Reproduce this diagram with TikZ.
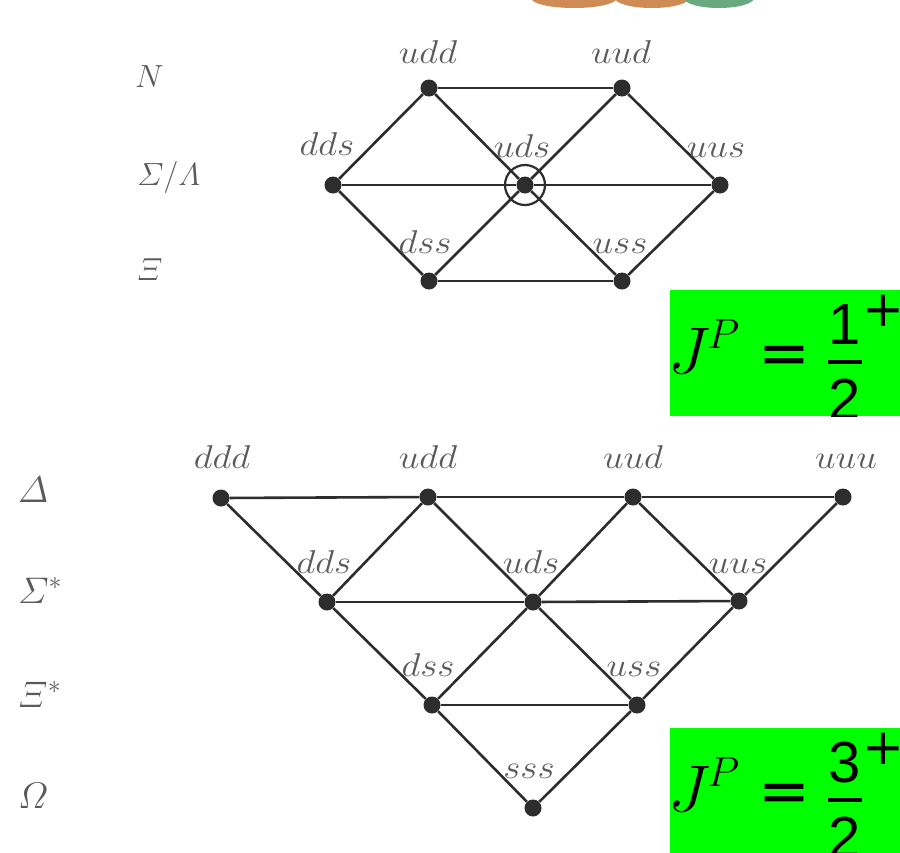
\RequirePackage{fix-cm}
\documentclass[tikz,border=0pt]{standalone}
\usepackage{amsmath}
\usepackage{fontspec}
\newfontfamily\lsans{Liberation Sans}
\newfontfamily\dvsans{DejaVu Sans}
\definecolor{jgreen}{RGB}{0,255,0}
\definecolor{lnc}{RGB}{45,45,45}
\definecolor{lbc}{RGB}{90,90,90}
\definecolor{orng}{RGB}{207,139,84}
\definecolor{sgrn}{RGB}{106,168,128}
\newcommand{\lb}[1]{\scalebox{1.12}[1]{$#1$}}
\newcommand{\jpbox}[3]{%
  \begin{scope}[yshift=-#1pt]
    \clip (670,290) rectangle (900,416);
    \fill[jgreen] (670,290) rectangle (900,416);
    \node[jtxt,font=\fontsize{66}{70}\selectfont] (#3J) at (668,373) {$J$};
    \node[jtxt,font=\fontsize{42}{46}\selectfont] (#3P) at (707,348) {$P$};
    \node[jtxt,anchor=base,font=\dvsans\fontsize{62}{66}\selectfont] (#3eq) at (784,374) {=};
    \node[jtxt,anchor=base,font=\lsans\fontsize{58}{62}\selectfont] (#3num) at (845,344) {#2};
    \node[jtxt,anchor=base,font=\lsans\fontsize{58}{62}\selectfont] (#3den) at (845,419) {2};
    \coordinate (#3b1) at (828,362);
    \coordinate (#3b2) at (862,362);
    \draw[line width=3.5pt] (#3b1) -- (#3b2);
    \node[jtxt,anchor=center,font=\dvsans\fontsize{50}{54}\selectfont] (#3plus) at (883,311) {+};
  \end{scope}}
\begin{document}
\begin{tikzpicture}[x=1pt,y=-1pt,
  qk/.style={circle,fill=lnc,inner sep=0pt,minimum size=17pt},
  edge/.style={draw=lnc,line width=2.6pt},
  lbl/.style={text=lbc,anchor=base,inner sep=0pt,font=\fontsize{33}{36}\selectfont},
  rowt/.style={text=lbc,anchor=base west,inner sep=0pt,font=\fontsize{32}{36}\selectfont},
  rowb/.style={text=lbc,anchor=base west,inner sep=0pt,font=\fontsize{37}{40}\selectfont},
  jtxt/.style={anchor=base west,inner sep=0pt,text=black}]
\useasboundingbox (0,0) rectangle (900,852);
\fill[white] (0,0) rectangle (900,852);

% partial circles at the top
\begin{scope}
  \clip (0,0) rectangle (900,852);
  \fill[orng] (574,-2) ellipse [x radius=43, y radius=10];
  \fill[orng] (652,-2) ellipse [x radius=37, y radius=10];
  \fill[sgrn] (719,-2) ellipse [x radius=35, y radius=10];
\end{scope}

% ---------- octet ----------
\node[qk] (o-udd) at (429,88) {};
\node[qk] (o-uud) at (622,88) {};
\node[qk] (o-dds) at (333,185) {};
\node[qk] (o-uds) at (525,185) {};
\node[qk] (o-uus) at (720,185) {};
\node[qk] (o-dss) at (429,281) {};
\node[qk] (o-uss) at (622,281) {};
\draw[draw=lnc,line width=2.2pt] (o-uds.center) circle (20);

\draw[edge] (o-udd) -- (o-uud);
\draw[edge] (o-dds) -- (o-uds);
\draw[edge] (o-uds) -- (o-uus);
\draw[edge] (o-dss) -- (o-uss);
\draw[edge] (o-udd) -- (o-dds);
\draw[edge] (o-dds) -- (o-dss);
\draw[edge] (o-uud) -- (o-uus);
\draw[edge] (o-uus) -- (o-uss);
\draw[edge] (o-udd) -- (o-uds);
\draw[edge] (o-uds) -- (o-uss);
\draw[edge] (o-uud) -- (o-uds);
\draw[edge] (o-uds) -- (o-dss);

\node[lbl] (ol-udd) at (428,63) {\lb{udd}};
\node[lbl] (ol-uud) at (621,63) {\lb{uud}};
\node[lbl] (ol-dds) at (327,155) {\lb{dds}};
\node[lbl] (ol-uds) at (522,157) {\lb{uds}};
\node[lbl] (ol-uus) at (716,157) {\lb{uus}};
\node[lbl] (ol-dss) at (425,253) {\lb{dss}};
\node[lbl] (ol-uss) at (620,253) {\lb{uss}};

\node[rowt] (rN) at (135,87) {$N$};
\node[rowt] (rSL) at (137,185) {$\varSigma/\varLambda$};
\node[rowt] (rX) at (137,280) {$\varXi$};

% ---------- decuplet ----------
\node[qk] (d-ddd) at (221,498) {};
\node[qk] (d-udd) at (428,497) {};
\node[qk] (d-uud) at (633,497) {};
\node[qk] (d-uuu) at (843,497) {};
\node[qk] (d-dds) at (327,602) {};
\node[qk] (d-uds) at (533,602) {};
\node[qk] (d-uus) at (739,601) {};
\node[qk] (d-dss) at (432,705) {};
\node[qk] (d-uss) at (637,705) {};
\node[qk] (d-sss) at (533,808) {};

\draw[edge] (d-ddd) -- (d-udd);
\draw[edge] (d-udd) -- (d-uud);
\draw[edge] (d-uud) -- (d-uuu);
\draw[edge] (d-dds) -- (d-uds);
\draw[edge] (d-uds) -- (d-uus);
\draw[edge] (d-dss) -- (d-uss);
\draw[edge] (d-ddd) -- (d-dds);
\draw[edge] (d-dds) -- (d-dss);
\draw[edge] (d-dss) -- (d-sss);
\draw[edge] (d-udd) -- (d-uds);
\draw[edge] (d-uds) -- (d-uss);
\draw[edge] (d-uud) -- (d-uus);
\draw[edge] (d-uuu) -- (d-uus);
\draw[edge] (d-uus) -- (d-uss);
\draw[edge] (d-uss) -- (d-sss);
\draw[edge] (d-uud) -- (d-uds);
\draw[edge] (d-uds) -- (d-dss);
\draw[edge] (d-udd) -- (d-dds);

\node[lbl] (dl-ddd) at (222,468) {\lb{ddd}};
\node[lbl] (dl-udd) at (428,468) {\lb{udd}};
\node[lbl] (dl-uud) at (633,468) {\lb{uud}};
\node[lbl] (dl-uuu) at (846,468) {\lb{uuu}};
\node[lbl] (dl-dds) at (324,573) {\lb{dds}};
\node[lbl] (dl-uds) at (531,573) {\lb{uds}};
\node[lbl] (dl-uus) at (738,573) {\lb{uus}};
\node[lbl] (dl-dss) at (428,676) {\lb{dss}};
\node[lbl] (dl-uss) at (634,676) {\lb{uss}};
\node[lbl] (dl-sss) at (529,778) {\lb{sss}};

\node[rowb] (rD) at (18,502) {$\varDelta$};
\node[rowb] (rS) at (18,603) {$\varSigma^*$};
\node[rowb] (rXs) at (18,707) {$\varXi^*$};
\node[rowb] (rO) at (18,808) {$\varOmega$};

% ---------- J^P boxes ----------
\jpbox{0}{1}{a}
\jpbox{438}{3}{b}
\end{tikzpicture}
\end{document}
